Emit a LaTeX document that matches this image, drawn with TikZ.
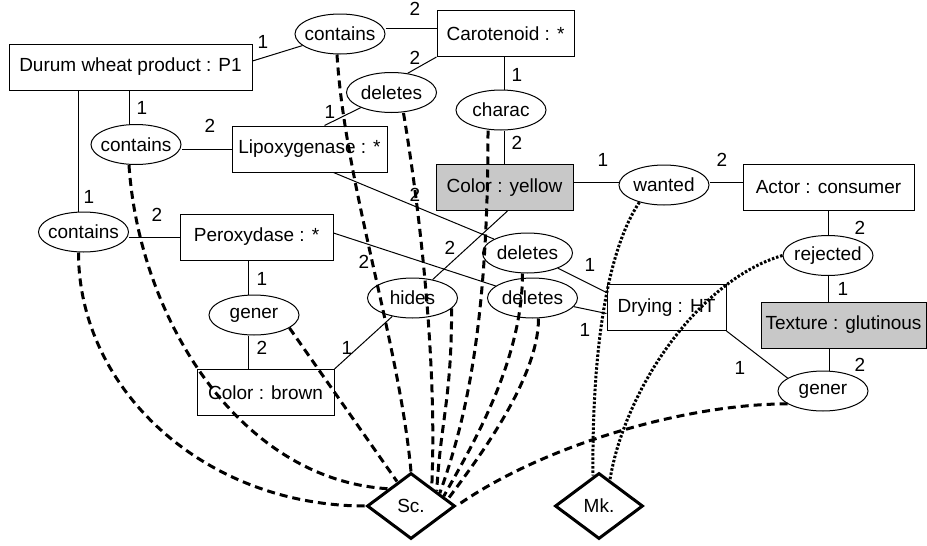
\documentclass[tikz,border=0pt]{standalone}
\usepackage{fontspec}
\setmainfont{Liberation Sans}
\usetikzlibrary{shapes.geometric}
\definecolor{conceptgray}{RGB}{200,200,200}
\begin{document}
\begin{tikzpicture}[x=1pt,y=-1pt,font=\fontsize{19}{22}\selectfont,
	concept/.style={draw,rectangle,minimum height=46,inner sep=0pt,line width=1pt},
	relation/.style={draw,ellipse,minimum width=90,minimum height=40,inner xsep=-8pt,inner ysep=0pt,line width=1pt},
	judge/.style={draw,diamond,line width=3pt,minimum width=88,minimum height=66,inner sep=0pt},
	scarc/.style={line width=3pt,dash pattern=on 8pt off 5pt},
	mkarc/.style={line width=3pt,dash pattern=on 2.5pt off 1.8pt}]
			\useasboundingbox (0,0) rectangle (927,546);
			\node[concept,minimum width=243] (p1) at (130.5,67) {Durum wheat product : P1};
			\node[concept,minimum width=137] (carot) at (505.5,33.5) {Carotenoid : *};
			\node[concept,minimum width=155] (lipox) at (309.5,149) {Lipoxygenase : *};
			\node[concept,minimum width=153] (perox) at (256.5,237) {Peroxydase : *};
			\node[concept,fill=conceptgray,minimum width=137] (yel) at (504.5,187.5) {Color : yellow};
			\node[concept,minimum width=171] (actor) at (828.5,187.5) {Actor : consumer};
			\node[concept,minimum width=119] (drying) at (666.5,307.5) {Drying : HT};
			\node[concept,fill=conceptgray,minimum width=165] (texture) at (843.5,325) {Texture : glutinous};
			\node[concept,minimum width=137] (brown) at (265.5,392.5) {Color : brown};
			\node[relation] (cont1) at (340,34) {contains};
			\node[relation] (del1) at (391.5,92.5) {deletes};
			\node[relation] (cont2) at (136,144.5) {contains};
			\node[relation] (cont3) at (83.5,232) {contains};
			\node[relation] (charac) at (501,110) {charac};
			\node[relation] (wanted) at (664,185) {wanted};
			\node[relation] (rejected) at (828,255.5) {rejected};
			\node[relation] (del2) at (527.5,253) {deletes};
			\node[relation] (del3) at (532.5,298) {deletes};
			\node[relation] (hides) at (412.5,298) {hides};
			\node[relation] (generL) at (254,315) {gener};
			\node[relation] (generR) at (823,391) {gener};
			\node[judge] (sc) at (411,506) {Sc.};
			\node[judge] (mk) at (599,506) {Mk.};
			\begin{scope}[line width=1pt]
			\draw ([yshift=6pt]p1.east) -- (cont1);
			\draw ([yshift=6pt]cont1.east) -- ([yshift=6pt]cont1.east -| carot.west);
			\draw (carot.south west) -- (del1.50);
			\draw (del1) -- ([xshift=15pt]lipox.north);
			\draw ([xshift=-7pt]cont2.north) -- ([xshift=-7pt]cont2.north |- p1.south);
			\draw (lipox.west) -- (lipox.west -| cont2.east);
			\draw ([xshift=-5pt]cont3.north) -- ([xshift=-5pt]cont3.north |- p1.south);
			\draw (perox.west) -- (perox.west -| cont3.east);
			\draw (carot.south -| yel) -- (charac.north -| yel);
			\draw (charac.south -| yel) -- (yel.north);
			\draw ([yshift=3pt]wanted.west) -- ([yshift=3pt]wanted.west -| yel.east);
			\draw ([yshift=3pt]wanted.east) -- ([yshift=3pt]wanted.east -| actor.west);
			\draw (rejected.north) -- (rejected.north |- actor.south);
			\draw (rejected.south) -- (rejected.south |- texture.north);
			\draw ([xshift=6pt]generR.north) -- ([xshift=6pt]generR.north |- texture.south);
			\draw (drying.south east) -- (generR.160);
			\draw ([xshift=24pt]lipox.south) -- (del2);
			\draw ([yshift=4pt]perox.east) -- (del3);
			\draw (del2) -- ([yshift=15pt]drying.west);
			\draw (del3) -- ([yshift=-6pt]drying.west);
			\draw (hides) -- ([xshift=3pt]yel.south);
			\draw (hides) -- (brown.north east);
			\draw ([xshift=-6pt]generL.north) -- ([xshift=-6pt]generL.north |- perox.south);
			\draw ([xshift=-6pt]generL.south) -- ([xshift=-6pt]generL.south |- brown.north);
			\end{scope}
			\draw[scarc] ([xshift=-5pt]cont3.south) .. controls +(0,138) and +(-160,0) .. (sc.west);
			\draw[scarc] ([xshift=-7pt]cont2.south) .. controls +(10,153) and +(-149,-9) .. (sc.north west);
			\draw[scarc] ([xshift=-3pt]cont1.south) .. controls +(8,130) and +(-12,-130) .. (sc.north);
			\draw[scarc] ([xshift=12pt]del1.south) .. controls +(20,120) and +(5,-110) .. ([shift={(-2,-1.5)}]sc.north east);
			\draw[scarc] (hides.-15) .. controls +(0,90) and +(4,-70) .. ([shift={(3,2)}]sc.north east);
			\draw[scarc] ([xshift=-13pt]charac.south) .. controls +(0,200) and +(25,-70) .. ([shift={(6,4.5)}]sc.north east);
			\draw[scarc] ([xshift=-5pt]del2.south) .. controls +(0,90) and +(25,-45) .. ([shift={(10,7.5)}]sc.north east);
			\draw[scarc] ([xshift=6pt]del3.south) .. controls +(0,60) and +(30,-40) .. ([shift={(14,10.5)}]sc.north east);
			\draw[scarc] (generL.-20) -- ([shift={(-14,10)}]sc.north);
			\draw[scarc] (generR.200) .. controls +(-103,0) and +(85,-60) .. (sc.east);
			\draw[mkarc] (wanted.215) .. controls +(-38,57) and +(-1,-98) .. ([shift={(-6,4)}]mk.north);
			\draw[mkarc] (rejected.west) .. controls +(-83,24) and +(15,-91) .. ([shift={(11,8)}]mk.north);
			\foreach \px/\py/\num [count=\i] in {263/42/1,415/9/2,415/58/2,330/112/1,142/108/1,210/126/2,89/197/1,157/215/2,517/75/1,517/143/2,415/195/2,450/248/2,364/262/2,603/160/1,722/160/2,860/228/2,843/289/1,860/365/2,740/368/1,590/265/1,585/330/1,262/279/1,262/348/2,347/348/1}
			\node (card\i) at (\px,\py) {\num};
\end{tikzpicture}
\end{document}
